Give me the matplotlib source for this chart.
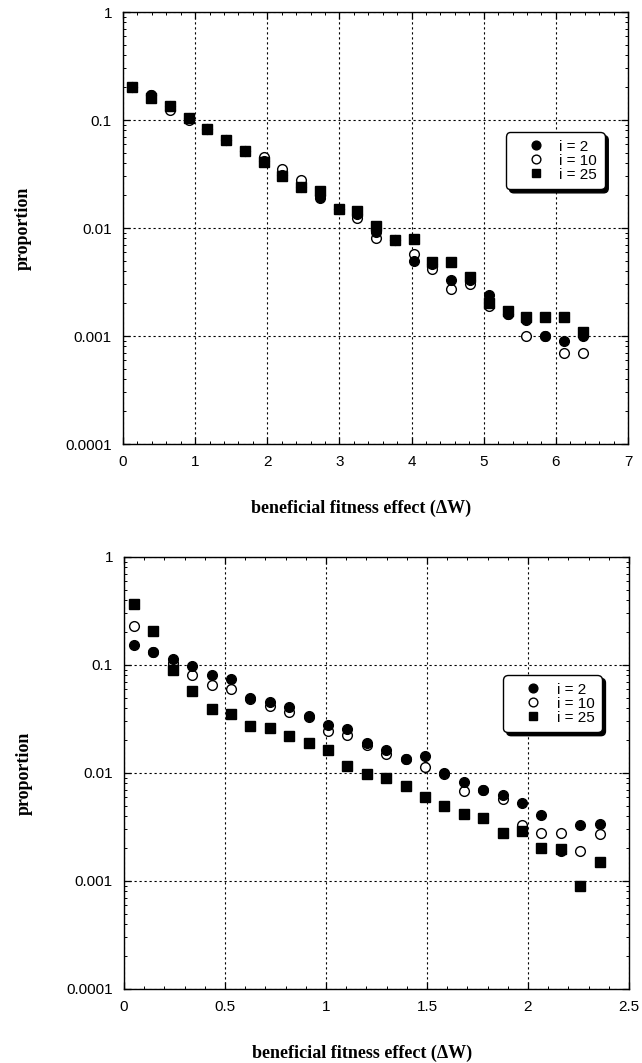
import matplotlib
matplotlib.use("Agg")
import matplotlib.pyplot as plt
import numpy as np
from matplotlib.ticker import LogLocator, FixedLocator, MultipleLocator, FuncFormatter, NullFormatter

# ---------------- data: top panel ----------------
top_x = [0.13, 0.39, 0.65, 0.91, 1.17, 1.43, 1.69, 1.95, 2.21, 2.47, 2.73, 2.99, 3.25,
         3.51, 3.77, 4.03, 4.29, 4.55, 4.81, 5.07, 5.33, 5.59, 5.85, 6.11, 6.37]
top_i2 = [0.20, 0.17, 0.135, 0.105, 0.083, 0.065, 0.052, 0.042, 0.031, 0.024, 0.019, 0.015, 0.0135,
          0.0092, 0.0077, 0.0049, 0.0046, 0.0033, 0.0033, 0.0024, 0.0016, 0.0014, 0.0010, 0.0009, 0.0010]
top_i10 = [0.20, 0.17, 0.125, 0.100, 0.083, 0.065, 0.052, 0.045, 0.035, 0.028, 0.020, 0.015, 0.0125,
           0.0080, 0.0077, 0.0057, 0.0042, 0.0027, 0.0030, 0.0019, 0.0016, 0.0010, 0.0010, 0.0007, 0.0007]
top_i25 = [0.20, 0.16, 0.135, 0.105, 0.083, 0.065, 0.052, 0.041, 0.030, 0.024, 0.022, 0.015, 0.0145,
           0.0105, 0.0077, 0.0079, 0.0048, 0.0048, 0.0035, 0.0020, 0.0017, 0.0015, 0.0015, 0.0015, 0.0011]

# ---------------- data: bottom panel ----------------
bot_x = [0.05, 0.146, 0.242, 0.338, 0.434, 0.53, 0.626, 0.722, 0.818, 0.914, 1.01, 1.106, 1.202,
         1.298, 1.394, 1.49, 1.586, 1.682, 1.778, 1.874, 1.97, 2.066, 2.162, 2.258, 2.354]
bot_i2 = [0.154, 0.133, 0.113, 0.097, 0.080, 0.074, 0.050, 0.045, 0.041, 0.0337, 0.0278, 0.0255, 0.0191,
          0.0163, 0.0136, 0.0143, 0.0100, 0.0083, 0.0070, 0.00625, 0.0053, 0.0041, 0.0019, 0.0033, 0.0034]
bot_i10 = [0.23, 0.133, 0.105, 0.080, 0.065, 0.060, 0.048, 0.042, 0.037, 0.033, 0.0245, 0.0225, 0.018,
           0.0149, 0.0136, 0.0114, 0.0098, 0.0068, 0.0069, 0.0058, 0.0033, 0.0028, 0.0028, 0.0019, 0.0027]
bot_i25 = [0.37, 0.206, 0.089, 0.057, 0.039, 0.035, 0.0274, 0.026, 0.022, 0.019, 0.0163, 0.0117, 0.0098,
           0.0090, 0.0075, 0.0060, 0.0049, 0.0042, 0.0038, 0.0028, 0.0029, 0.0020, 0.00197, 0.0009, 0.0015]

labels = ["i = 2", "i = 10", "i = 25"]
y_ticks = [0.0001, 0.001, 0.01, 0.1, 1]

sans = ["Liberation Sans", "DejaVu Sans"]
serif = ["Liberation Serif", "DejaVu Serif"]

W, H = 642, 1063
fig = plt.figure(figsize=(W / 100, H / 100), dpi=100)

def axes_rect(left_px, right_px, top_px, bottom_px):
    return [left_px / W, 1 - bottom_px / H, (right_px - left_px) / W, (bottom_px - top_px) / H]

ax1 = fig.add_axes(axes_rect(123, 628, 12, 444))
ax2 = fig.add_axes(axes_rect(124, 629, 557, 989))

def style(ax, xmax, xmajor, xminor, legend_anchor):
    ax.set_yscale("log")
    ax.set_ylim(1e-4, 1)
    ax.set_xlim(0, xmax)
    ax.xaxis.set_major_locator(MultipleLocator(xmajor))
    ax.xaxis.set_minor_locator(MultipleLocator(xminor))
    ax.yaxis.set_major_locator(FixedLocator(y_ticks))
    ax.yaxis.set_minor_locator(LogLocator(base=10, subs=np.arange(2, 10), numticks=20))
    ax.yaxis.set_minor_formatter(NullFormatter())
    ax.yaxis.set_major_formatter(FuncFormatter(lambda v, p: "%g" % v))
    ax.xaxis.set_major_formatter(FuncFormatter(lambda v, p: "%g" % v))
    ax.tick_params(which="both", direction="in", top=True, right=True, colors="black")
    ax.tick_params(which="major", length=5, width=0.9, pad=8, labelsize=11)
    ax.tick_params(which="minor", length=2.5, width=0.7)
    for lab in ax.get_xticklabels() + ax.get_yticklabels():
        lab.set_family(sans)
    ax.grid(True, which="major", color="black", linestyle=(0, (2, 2.5)), linewidth=0.8)
    for s in ax.spines.values():
        s.set_linewidth(1.0)
        s.set_color("black")
    ax.set_ylabel("proportion", family=serif, fontweight="bold", fontsize=13)
    ax.set_xlabel("beneficial fitness effect (\u0394W)", family=serif, fontweight="bold", fontsize=13)
    ax.yaxis.set_label_coords(-0.18, 0.5)
    ax.xaxis.set_label_coords(0.471, -0.128)
    leg = ax.legend(loc="upper right", bbox_to_anchor=legend_anchor, borderaxespad=0,
                    frameon=True, fancybox=True, framealpha=1, edgecolor="black",
                    shadow={"color": "black", "alpha": 1, "ox": 2.5, "oy": -2.5},
                    prop={"family": sans, "size": 11}, handletextpad=0.1, borderpad=0.5,
                    labelspacing=0.0, handlelength=2.9, markerscale=0.9)
    leg.get_frame().set_linewidth(1.0)
    leg.get_frame().set_boxstyle("round,pad=0,rounding_size=0.3")

for ax, x, s2, s10, s25, xmax, xmaj, xmin, anchor in [
        (ax1, top_x, top_i2, top_i10, top_i25, 7, 1, 0.2, (0.954, 0.722)),
        (ax2, bot_x, bot_i2, bot_i10, bot_i25, 2.5, 0.5, 0.1, (0.9465, 0.727))]:
    ax.plot(x, s2, linestyle="none", marker="o", markersize=7, markerfacecolor="black",
            markeredgecolor="black", label=labels[0], zorder=4)
    ax.plot(x, s10, linestyle="none", marker="o", markersize=7, markerfacecolor="white",
            markeredgecolor="black", markeredgewidth=1.0, label=labels[1], zorder=3)
    ax.plot(x, s25, linestyle="none", marker="s", markersize=6.5, markerfacecolor="black",
            markeredgecolor="black", label=labels[2], zorder=5)
    style(ax, xmax, xmaj, xmin, anchor)

fig.savefig("out.png", dpi=100)
